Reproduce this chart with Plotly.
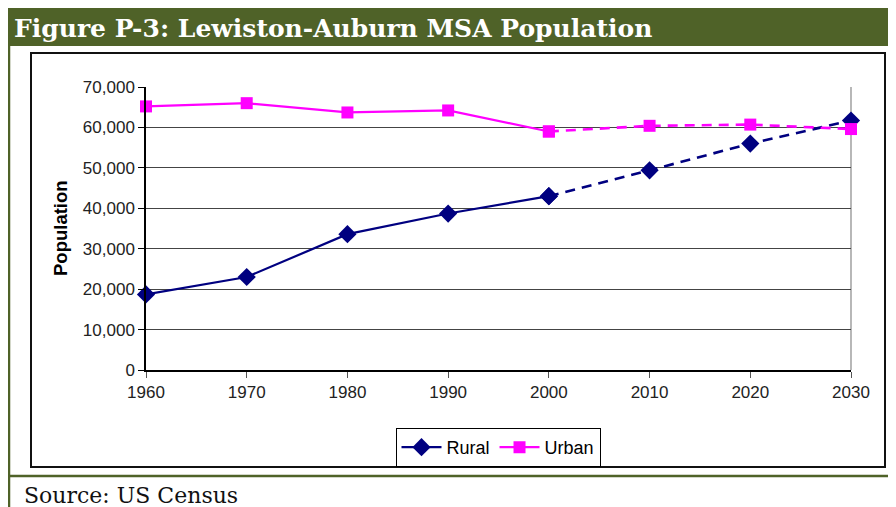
import plotly.graph_objects as go

years = [1960, 1970, 1980, 1990, 2000, 2010, 2020, 2030]
rural = [18700, 23000, 33600, 38700, 43000, 49400, 56000, 61700]
urban = [65200, 66000, 63700, 64200, 59000, 60400, 60700, 59600]
split = 4  # index of 2000: observed data solid up to here, projection dashed after

title_text = "Figure P-3: Lewiston-Auburn MSA Population"
source_text = "Source: US Census"
y_title = "Population"
y_ticks = [0, 10000, 20000, 30000, 40000, 50000, 60000, 70000]

OFF = 8  # page body margin offset
W, H = 896 - OFF, 507 - OFF
# plot area bounds in page pixels
L, R, T, B = 146, 851, 87, 370

def px(xp):
    return (xp - L) / (R - L)

def py(yp):
    return (B - yp) / (B - T)

NAVY = "#000080"
MAG = "#FF00FF"
GREEN = "#4F6228"

fig = go.Figure()

fig.add_trace(go.Scatter(x=years[:split + 1], y=rural[:split + 1], name="Rural",
                         mode="lines+markers", line=dict(color=NAVY, width=2.2),
                         marker=dict(symbol="diamond", size=14, color=NAVY),
                         cliponaxis=False))
fig.add_trace(go.Scatter(x=years[split:], y=rural[split:], name="Rural",
                         mode="lines+markers", showlegend=False,
                         line=dict(color=NAVY, width=2.6, dash="10px,7px"),
                         marker=dict(symbol="diamond", size=14, color=NAVY),
                         cliponaxis=False))
fig.add_trace(go.Scatter(x=years[:split + 1], y=urban[:split + 1], name="Urban",
                         mode="lines+markers", line=dict(color=MAG, width=2.2),
                         marker=dict(symbol="square", size=12, color=MAG),
                         cliponaxis=False))
fig.add_trace(go.Scatter(x=years[split:], y=urban[split:], name="Urban",
                         mode="lines+markers", showlegend=False,
                         line=dict(color=MAG, width=2.6, dash="10px,7px"),
                         marker=dict(symbol="square", size=12, color=MAG),
                         cliponaxis=False))

shapes = [
    # green header bar
    dict(type="rect", xref="paper", yref="paper", x0=px(5), x1=px(910), y0=py(46), y1=py(0),
         fillcolor=GREEN, line=dict(width=0), layer="below"),
    # left green vertical rule
    dict(type="line", xref="paper", yref="paper", x0=px(9), x1=px(9), y0=py(46), y1=py(520),
         line=dict(color=GREEN, width=2.5)),
    # bottom green horizontal rule
    dict(type="line", xref="paper", yref="paper", x0=px(8), x1=px(910), y0=py(476), y1=py(476),
         line=dict(color=GREEN, width=2.5)),
    # chart area black border
    dict(type="rect", xref="paper", yref="paper", x0=px(31), x1=px(885), y0=py(467), y1=py(53),
         line=dict(color="#111", width=2), fillcolor="rgba(0,0,0,0)", layer="below"),
    # plot area right border (gray)
    dict(type="line", xref="paper", yref="paper", x0=1, x1=1, y0=0, y1=1,
         line=dict(color="#888", width=1.2), layer="below"),
]

annotations = [
    dict(text=title_text, xref="paper", yref="paper", x=px(12), y=py(28),
         xanchor="left", yanchor="middle", showarrow=False,
         font=dict(family="DejaVu Serif", size=25, color="white", weight="bold")),
    dict(text=source_text, xref="paper", yref="paper", x=px(22), y=py(495),
         xanchor="left", yanchor="middle", showarrow=False,
         font=dict(family="DejaVu Serif", size=22, color="#111")),
    dict(text="<b>" + y_title + "</b>", xref="paper", yref="paper", x=px(60), y=py(228),
         xanchor="center", yanchor="middle", showarrow=False, textangle=-90,
         font=dict(family="Liberation Sans, Arial", size=18.5, color="#000")),
]

fig.update_layout(
    width=W, height=H,
    margin=dict(l=L - OFF, r=(896 - R), t=T - OFF, b=(507 - B)),
    paper_bgcolor="white", plot_bgcolor="white",
    showlegend=True,
    legend=dict(orientation="h", x=px(498), y=py(428), xanchor="center", yanchor="top",
                bordercolor="#000", borderwidth=1, bgcolor="white",
                font=dict(family="Liberation Sans, Arial", size=18, color="#000"),
                itemwidth=40, tracegroupgap=0),
    shapes=shapes,
    annotations=annotations,
    font=dict(family="Liberation Sans, Arial", color="#222"),
)

fig.update_xaxes(range=[1960, 2030], tickmode="array", tickvals=years,
                 ticktext=[str(y) for y in years], showgrid=False, zeroline=False,
                 showline=True, linecolor="#000", linewidth=1.5,
                 ticks="outside", ticklen=6, tickcolor="#555",
                 tickfont=dict(size=17, color="#222"), fixedrange=True)
fig.update_yaxes(range=[0, 70000], tickmode="array", tickvals=y_ticks,
                 ticktext=[f"{v:,}" for v in y_ticks],
                 showgrid=True, gridcolor="#444", gridwidth=1, zeroline=False,
                 showline=True, linecolor="#000", linewidth=1.5,
                 ticks="outside", ticklen=6, tickcolor="#000",
                 tickfont=dict(size=17, color="#222"), fixedrange=True)

fig.write_html("out.html")
